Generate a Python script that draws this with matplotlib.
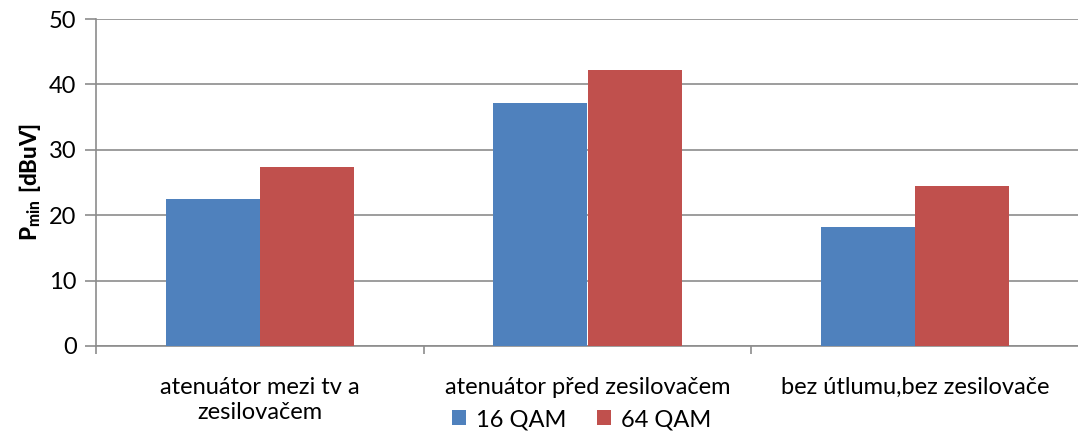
import matplotlib
matplotlib.use("Agg")
import matplotlib.pyplot as plt
import numpy as np

categories = ["atenuátor mezi tv a\nzesilovačem", "atenuátor před zesilovačem", "bez útlumu,bez zesilovače"]
series_names = ["16 QAM", "64 QAM"]
qam16 = [22.5, 37.1, 18.2]
qam64 = [27.4, 42.2, 24.5]
yticks = [0, 10, 20, 30, 40, 50]

plt.rcParams['font.family'] = ['Lato', 'DejaVu Sans']
plt.rcParams['mathtext.fontset'] = 'custom'
plt.rcParams['mathtext.bf'] = 'Lato:black'
plt.rcParams['mathtext.rm'] = 'Lato'

fig = plt.figure(figsize=(10.78, 4.32), dpi=100)
ax = fig.add_axes([96/1078, 1-346/432, (1079-96)/1078, (346-19)/432])

x = np.arange(len(categories))
w = 0.287
grey = '#8c8c8c'
ax.bar(x - w/2, qam16, w, color='#4F81BD', label=series_names[0], zorder=3)
ax.bar(x + w/2, qam64, w, color='#C0504D', label=series_names[1], zorder=3)

ax.set_xlim(-0.5, len(categories) - 0.5)
ax.set_ylim(0, 50)
ax.set_yticks(yticks)
ax.yaxis.grid(True, color=grey, linewidth=1.2, zorder=0)
ax.set_axisbelow(True)
for s in ['top', 'right']:
    ax.spines[s].set_visible(False)
ax.spines['left'].set_color(grey)
ax.spines['bottom'].set_color(grey)
ax.spines['left'].set_linewidth(1.2)
ax.spines['bottom'].set_linewidth(1.2)

ax.set_xticks(x)
ax.set_xticklabels(categories, fontsize=17, linespacing=1.25)
ax.tick_params(axis='x', length=0, pad=22)
ax.set_xticks(np.arange(len(categories) + 1) - 0.5, minor=True)
ax.tick_params(axis='x', which='minor', length=6, color=grey, width=1.2)
ax.tick_params(axis='y', length=8, color=grey, width=1.2, labelsize=17, pad=6)

ax.set_ylabel(r"$\mathbf{P_{min}\ [dBuV]}$", fontsize=16, labelpad=4)

ax.legend(loc='center', bbox_to_anchor=(0.494, -0.225), ncol=2, frameon=False,
          fontsize=17, handlelength=0.6, handleheight=0.6, handletextpad=0.4, columnspacing=1.3)

fig.savefig("out.png", dpi=100)
